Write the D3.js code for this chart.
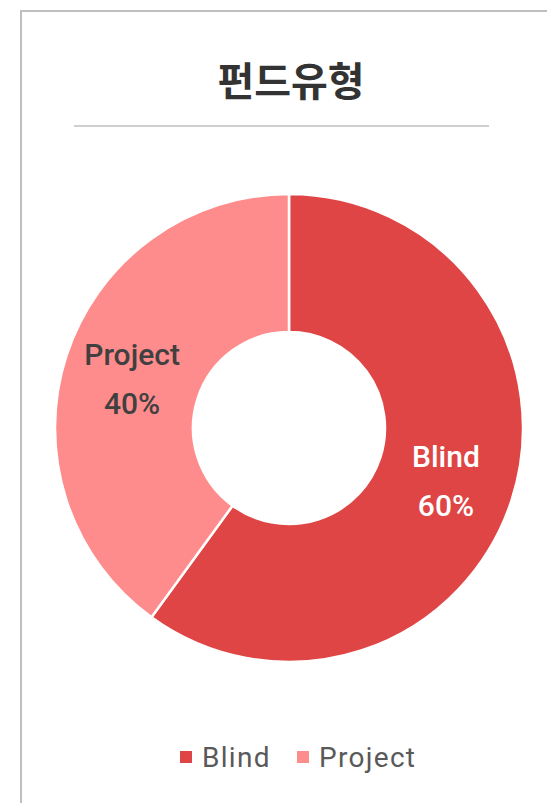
<!DOCTYPE html>
<html>
<head>
<meta charset="utf-8">
<script src="https://cdn.jsdelivr.net/npm/d3@7"></script>
<style>
body { margin: 0; background: #fff; }
</style>
</head>
<body>
<svg id="chart"></svg>
<script>
var width = 547,
height = 803;

// data
var categories = ["Blind", "Project"];
var values = [60, 40];
var colorList = ["#E04545", "#FF8C8C"];
var labelColors = ["#ffffff", "#404040"];

var svg = d3.select("#chart")
.attr("width", width)
.attr("height", height);

// frame (cut on right / bottom)
svg.append("path")
.attr("d", "M21,803 L21,11 L547,11")
.attr("fill", "none")
.attr("stroke", "#bfbfbf")
.attr("stroke-width", 2);

svg.append("text")
.attr("x", 291)
.attr("y", 96)
.attr("text-anchor", "middle")
.style("font-family", "'Noto Sans CJK KR'")
.style("font-weight", "bold")
.style("font-size", "40px")
.style("fill", "#333")
.text("펀드유형");

svg.append("line")
.attr("x1", 74).attr("x2", 489)
.attr("y1", 126).attr("y2", 126)
.attr("stroke", "#bfbfbf")
.attr("stroke-width", 1.5);

var cx = 289, cy = 428;
var outerR = 234, innerR = 96;

var color = d3.scaleOrdinal().domain(categories).range(colorList);

var pie = d3.pie().sort(null).value(function (d) { return d.value; });
var arc = d3.arc().innerRadius(innerR).outerRadius(outerR);

var data = categories.map(function (c, i) { return { name: c, value: values[i], idx: i }; });
var total = d3.sum(values);

var g = svg.append("g").attr("transform", "translate(" + cx + "," + cy + ")");

g.selectAll("path")
.data(pie(data))
.enter().append("path")
.attr("d", arc)
.attr("fill", function (d) { return color(d.data.name); })
.attr("stroke", "#fff")
.attr("stroke-width", 2.5);

var labels = g.selectAll("g.lbl")
.data(pie(data))
.enter().append("g")
.attr("class", "lbl")
.attr("transform", function (d) { return "translate(" + arc.centroid(d) + ")"; });

labels.append("text")
.attr("text-anchor", "middle")
.attr("y", -12)
.style("font-family", "Roboto")
.style("font-weight", "500")
.style("font-size", "30px")
.style("fill", function (d) { return labelColors[d.data.idx]; })
.text(function (d) { return d.data.name; });

labels.append("text")
.attr("text-anchor", "middle")
.attr("y", 37)
.style("font-family", "Roboto")
.style("font-weight", "500")
.style("font-size", "30px")
.style("fill", function (d) { return labelColors[d.data.idx]; })
.text(function (d) { return Math.round(d.data.value / total * 100) + "%"; });

// legend
var legendX = [180, 297];
var legend = svg.selectAll("g.leg")
.data(categories)
.enter().append("g")
.attr("class", "leg")
.attr("transform", function (d, i) { return "translate(" + legendX[i] + ",751)"; });

legend.append("rect")
.attr("width", 12).attr("height", 12)
.attr("fill", function (d) { return color(d); });

legend.append("text")
.attr("x", 22)
.attr("y", 16)
.style("font-family", "Roboto")
.style("font-size", "28px")
.style("letter-spacing", "1.3px")
.style("fill", "#595959")
.text(function (d) { return d; });
</script>
</body>
</html>
